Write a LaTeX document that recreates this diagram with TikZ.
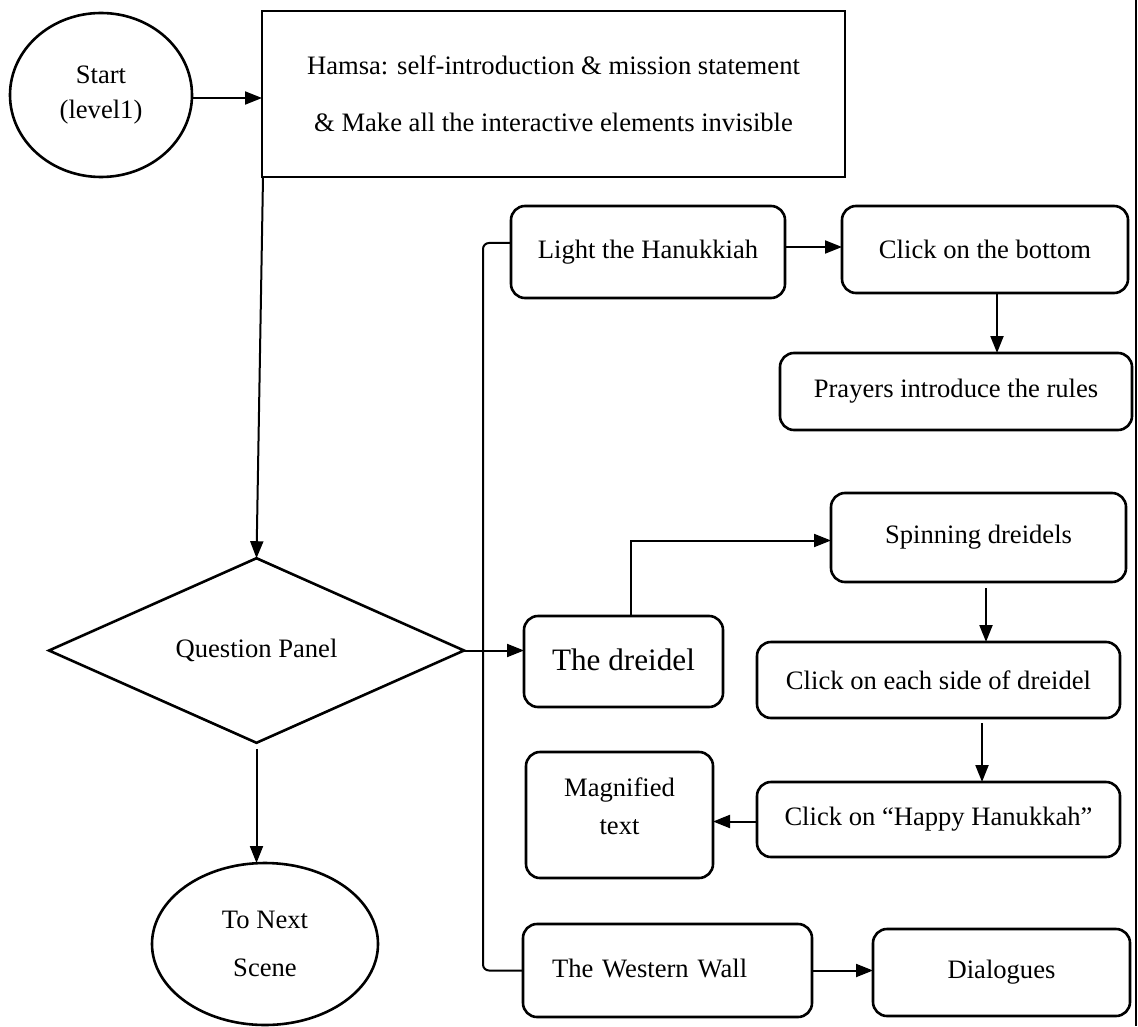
\documentclass[tikz,border=0pt]{standalone}
\usepackage{fontspec}
\setmainfont{Liberation Serif}
\usetikzlibrary{arrows.meta,shapes.geometric}
\begin{document}
\begin{tikzpicture}[x=0.5pt,y=-0.5pt,
  every node/.style={font=\fontsize{13.3}{16}\selectfont, inner sep=0pt, outer sep=0pt},
  shp/.style={draw, line width=1.3pt},
  rbox/.style={shp, rectangle, rounded corners=7pt},
  arr/.style={line width=1pt, -{Triangle[length=8.5pt,width=6.5pt]}},
  ln/.style={line width=1pt}]
\useasboundingbox (0,0) rectangle (1138,1026);

% nodes
\node[shp, ellipse, minimum width=91pt, minimum height=82pt, align=center,
      font=\fontsize{13.3}{17.5}\selectfont] (start) at (101,95) {Start\\(level1)};
\node[shp, rectangle, minimum width=291.5pt, minimum height=83pt, align=center,
      font=\fontsize{13.3}{28.5}\selectfont] (hamsa) at (553.5,94)
      {Hamsa: self-introduction \& mission statement\\\& Make all the interactive elements invisible};
\node[shp, diamond, minimum width=207.5pt, minimum height=83.5pt] (qp) at (256.5,650.5) {Question Panel};
\node[shp, ellipse, minimum width=113pt, minimum height=81pt, align=center,
      font=\fontsize{13.3}{24}\selectfont] (next) at (265,944) {To Next\\Scene};

\node[rbox, minimum width=137pt, minimum height=46pt] (light) at (648,252) {Light the Hanukkiah};
\node[rbox, minimum width=143pt, minimum height=43.5pt] (bottom) at (985,249.5) {Click on the bottom};
\node[rbox, minimum width=176pt, minimum height=38.5pt] (prayers) at (956,391.5) {Prayers introduce the rules};

\node[rbox, minimum width=147.5pt, minimum height=44.5pt] (spin) at (978.5,537.5) {Spinning dreidels};
\node[rbox, minimum width=99.5pt, minimum height=45.5pt, font=\fontsize{15.6}{18}\selectfont] (dreidel) at (623.5,661.5) {\raisebox{2pt}{The dreidel}};
\node[rbox, minimum width=181.5pt, minimum height=38pt] (eachside) at (938.5,680) {Click on each side of dreidel};
\node[rbox, minimum width=181.5pt, minimum height=37.5pt] (happy) at (938.5,819.5) {Click on “Happy Hanukkah”};
\node[rbox, minimum width=93.5pt, minimum height=63pt, align=center,
      font=\fontsize{13.3}{20.5}\selectfont] (magn) at (619.5,815) {\raisebox{9pt}{\shortstack{Magnified\\[6pt]text}}};

\node[rbox, minimum width=144.5pt, minimum height=46.5pt, inner xsep=14.5pt,
      text width=115.5pt, align=left] (western) at (667.5,970.5) {\raisebox{2pt}{The Western Wall}};
\node[rbox, minimum width=128.5pt, minimum height=43.5pt] (dialogues) at (1001.5,972.5) {Dialogues};

% right border line
\coordinate (bt) at (1135.5,0);
\coordinate (bb) at (1135.5,1026);
\draw[line width=1pt] (bt) -- (bb);

% connectors
\draw[arr] ([yshift=-1.5pt]start.east) -- ([yshift=-1.5pt]start.east -| hamsa.west);
\draw[arr] ([xshift=0.5pt]hamsa.south west) -- (qp.north);
\draw[arr] ([yshift=-3pt]qp.south) -- (qp.south |- next.north);
\draw[arr] (qp.east) -- (qp.east -| dreidel.west);
\draw[arr] ([xshift=3.75pt]dreidel.north) |- ([yshift=-1.5pt]spin.west);
\draw[arr] ([yshift=2.5pt]light.east) -- ([yshift=2.5pt]light.east -| bottom.west);
\draw[arr] ([xshift=6pt]bottom.south) -- ([xshift=6pt]bottom.south |- prayers.north);
\draw[arr] ([xshift=3.75pt,yshift=-3pt]spin.south) -- ([xshift=3.75pt]spin.south |- eachside.north);
\draw[arr] ([xshift=21.75pt,yshift=-2.5pt]eachside.south) -- ([xshift=21.75pt]eachside.south |- happy.north);
\draw[arr] ([yshift=-1pt]happy.west) -- ([yshift=-1pt]happy.west -| magn.east);
\draw[arr] (western.east) -- (western.east -| dialogues.west);

\coordinate (bx) at (483,0);
\draw[ln, rounded corners=3pt] ([yshift=4.5pt]light.west) -| (bx |- western.west) -- (western.west);
\end{tikzpicture}
\end{document}
